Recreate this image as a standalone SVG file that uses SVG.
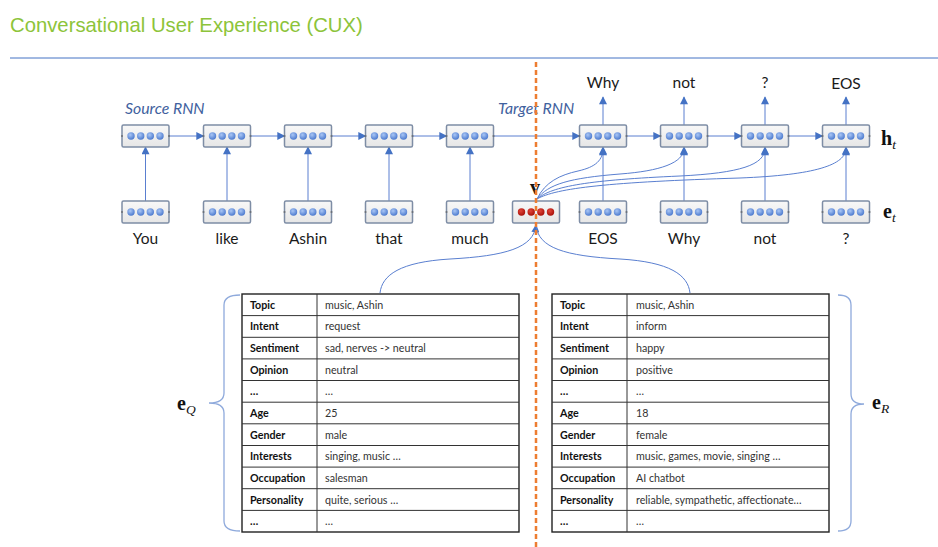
<svg xmlns="http://www.w3.org/2000/svg" xmlns:xlink="http://www.w3.org/1999/xlink" width="938" height="547" viewBox="0 0 938 547">
<style>
.title{font-family:"Liberation Sans",Arial,sans-serif;font-size:20.3px;fill:#8DC43A}
.word{font-family:Lato,"Liberation Sans",sans-serif;font-size:15.5px;fill:#1a1a1a;text-anchor:middle}
.rnn{font-family:Lato,"Liberation Sans",sans-serif;font-size:15.8px;font-style:italic;fill:#41619E}
.box{fill:url(#boxg);stroke:#7E8DA5;stroke-width:1.5}
.conn{fill:none;stroke:#5A7FD0;stroke-width:1}
.math{font-family:"Liberation Serif","DejaVu Serif",serif;font-weight:bold;font-size:20px;fill:#111}
.sub{font-family:"Liberation Serif","DejaVu Serif",serif;font-style:italic;font-weight:normal;font-size:13.5px}
.tb{fill:#fff;stroke:#222;stroke-width:1.4}
.tl{stroke:#333;stroke-width:1}
.lab{font-family:Lato,"Liberation Sans",sans-serif;font-size:10.7px;font-weight:bold;fill:#111}
.val{font-family:Lato,"Liberation Sans",sans-serif;font-size:10.7px;fill:#333}
.brace{fill:none;stroke:#8FAADC;stroke-width:1.3}
</style>
<defs>
<linearGradient id="boxg" x1="0" y1="0" x2="0" y2="1">
<stop offset="0" stop-color="#F8F8F8"/><stop offset="1" stop-color="#E6E6E6"/>
</linearGradient>
<radialGradient id="dotb" cx="0.4" cy="0.35" r="0.7">
<stop offset="0" stop-color="#A9C6F5"/><stop offset="1" stop-color="#4675CC"/>
</radialGradient>
<radialGradient id="dotr" cx="0.4" cy="0.35" r="0.7">
<stop offset="0" stop-color="#E2453A"/><stop offset="1" stop-color="#A50F08"/>
</radialGradient>
<marker id="arr" viewBox="0 0 10 10" refX="9" refY="5" markerWidth="9" markerHeight="8" markerUnits="userSpaceOnUse" orient="auto">
<path d="M0,0 L10,5 L0,10 z" fill="#4472C4"/>
</marker>
<g id="cellB">
<rect class="box" x="0" y="0" width="47" height="22" rx="1.5"/>
<line x1="-1" y1="11" x2="1" y2="11" stroke="#555" stroke-width="1"/>
<line x1="46" y1="11" x2="48" y2="11" stroke="#555" stroke-width="1"/>
<circle cx="9" cy="11" r="3.7" fill="url(#dotb)"/>
<circle cx="18.7" cy="11" r="3.7" fill="url(#dotb)"/>
<circle cx="28.3" cy="11" r="3.7" fill="url(#dotb)"/>
<circle cx="38" cy="11" r="3.7" fill="url(#dotb)"/>
</g>
<g id="cellR">
<rect class="box" x="0" y="0" width="47" height="22" rx="1.5"/>
<circle cx="9" cy="11" r="3.7" fill="url(#dotr)"/>
<circle cx="18.7" cy="11" r="3.7" fill="url(#dotr)"/>
<circle cx="28.3" cy="11" r="3.7" fill="url(#dotr)"/>
<circle cx="38" cy="11" r="3.7" fill="url(#dotr)"/>
</g>
</defs>
<rect width="938" height="547" fill="#fff"/>
<g id="header">
<text class="title" x="10" y="32">Conversational User Experience (CUX)</text>
<line x1="10" y1="58" x2="938" y2="58" stroke="#4472C4" stroke-width="1"/>
</g>
<g id="labels">
<text class="rnn" x="125" y="114">Source RNN</text>
<text class="rnn" x="498" y="114">Target RNN</text>
<text class="math" x="881" y="145">h<tspan class="sub" dy="4">t</tspan></text>
<text class="math" x="883" y="218">e<tspan class="sub" dy="4">t</tspan></text>
<text class="math" x="535" y="194" text-anchor="middle" font-size="17">v</text>
<text class="math" x="177" y="410">e<tspan class="sub" dy="4">Q</tspan></text>
<text class="math" x="872" y="409">e<tspan class="sub" dy="4">R</tspan></text>
</g>
<g id="connectors">
<line class="conn" x1="169" y1="136" x2="203.5" y2="136" marker-end="url(#arr)"/>
<line class="conn" x1="250.5" y1="136" x2="284.5" y2="136" marker-end="url(#arr)"/>
<line class="conn" x1="331.5" y1="136" x2="365.5" y2="136" marker-end="url(#arr)"/>
<line class="conn" x1="412.5" y1="136" x2="446.5" y2="136" marker-end="url(#arr)"/>
<line class="conn" x1="493.5" y1="136" x2="579.5" y2="136" marker-end="url(#arr)"/>
<line class="conn" x1="626.5" y1="136" x2="660.5" y2="136" marker-end="url(#arr)"/>
<line class="conn" x1="707.5" y1="136" x2="741.5" y2="136" marker-end="url(#arr)"/>
<line class="conn" x1="788.5" y1="136" x2="822.5" y2="136" marker-end="url(#arr)"/>
<line class="conn" x1="145.5" y1="201" x2="145.5" y2="147" marker-end="url(#arr)"/>
<line class="conn" x1="227" y1="201" x2="227" y2="147" marker-end="url(#arr)"/>
<line class="conn" x1="308" y1="201" x2="308" y2="147" marker-end="url(#arr)"/>
<line class="conn" x1="389" y1="201" x2="389" y2="147" marker-end="url(#arr)"/>
<line class="conn" x1="470" y1="201" x2="470" y2="147" marker-end="url(#arr)"/>
<line class="conn" x1="603" y1="201" x2="603" y2="147" marker-end="url(#arr)"/>
<line class="conn" x1="684" y1="201" x2="684" y2="147" marker-end="url(#arr)"/>
<line class="conn" x1="765" y1="201" x2="765" y2="147" marker-end="url(#arr)"/>
<line class="conn" x1="846" y1="201" x2="846" y2="147" marker-end="url(#arr)"/>
<line class="conn" x1="603" y1="125" x2="603" y2="97" marker-end="url(#arr)"/>
<line class="conn" x1="684" y1="125" x2="684" y2="97" marker-end="url(#arr)"/>
<line class="conn" x1="765" y1="125" x2="765" y2="97" marker-end="url(#arr)"/>
<line class="conn" x1="846" y1="125" x2="846" y2="97" marker-end="url(#arr)"/>
<path class="conn" d="M537,199 C545,182 560,175 578,171 C596,167 603,160 603,148" marker-end="url(#arr)"/>
<path class="conn" d="M537,199 C548,184 570,178 620,174 C660,171 684,163 684,148" marker-end="url(#arr)"/>
<path class="conn" d="M537,199 C552,186 590,180 680,176 C740,173 765,165 765,148" marker-end="url(#arr)"/>
<path class="conn" d="M537,199 C556,188 610,182 740,178 C815,175 846,165 846,148" marker-end="url(#arr)"/>
<path class="conn" d="M380,293 C382,275 400,262 450,259 C505,256 534,248 536,225" marker-end="url(#arr)"/>
<path class="conn" d="M690,293 C688,275 670,262 620,259 C565,256 538,248 536,225"/>
</g>
<g id="source-hidden">
<use xlink:href="#cellB" x="122" y="125"/>
<use xlink:href="#cellB" x="203.5" y="125"/>
<use xlink:href="#cellB" x="284.5" y="125"/>
<use xlink:href="#cellB" x="365.5" y="125"/>
<use xlink:href="#cellB" x="446.5" y="125"/>
</g>
<g id="target-hidden">
<use xlink:href="#cellB" x="579.5" y="125"/>
<use xlink:href="#cellB" x="660.5" y="125"/>
<use xlink:href="#cellB" x="741.5" y="125"/>
<use xlink:href="#cellB" x="822.5" y="125"/>
</g>
<g id="source-embed">
<use xlink:href="#cellB" x="122" y="201"/>
<use xlink:href="#cellB" x="203.5" y="201"/>
<use xlink:href="#cellB" x="284.5" y="201"/>
<use xlink:href="#cellB" x="365.5" y="201"/>
<use xlink:href="#cellB" x="446.5" y="201"/>
</g>
<g id="v-node">
<use xlink:href="#cellR" x="512.5" y="201"/>
</g>
<g id="target-embed">
<use xlink:href="#cellB" x="579.5" y="201"/>
<use xlink:href="#cellB" x="660.5" y="201"/>
<use xlink:href="#cellB" x="741.5" y="201"/>
<use xlink:href="#cellB" x="822.5" y="201"/>
</g>
<g id="words">
<text class="word" x="145.5" y="244">You</text>
<text class="word" x="227" y="244">like</text>
<text class="word" x="308" y="244">Ashin</text>
<text class="word" x="389" y="244">that</text>
<text class="word" x="470" y="244">much</text>
<text class="word" x="603" y="244">EOS</text>
<text class="word" x="684" y="244">Why</text>
<text class="word" x="765" y="244">not</text>
<text class="word" x="846" y="244">?</text>
<text class="word" x="603" y="88">Why</text>
<text class="word" x="684" y="88">not</text>
<text class="word" x="765" y="88">?</text>
<text class="word" x="846" y="89">EOS</text>
</g>
<g id="table-q">
<rect class="tb" x="242" y="294" width="277" height="238"/>
<line class="tl" x1="317" y1="294" x2="317" y2="532"/>
<line class="tl" x1="242" y1="315.6" x2="519" y2="315.6"/>
<line class="tl" x1="242" y1="337.3" x2="519" y2="337.3"/>
<line class="tl" x1="242" y1="358.9" x2="519" y2="358.9"/>
<line class="tl" x1="242" y1="380.5" x2="519" y2="380.5"/>
<line class="tl" x1="242" y1="402.2" x2="519" y2="402.2"/>
<line class="tl" x1="242" y1="423.8" x2="519" y2="423.8"/>
<line class="tl" x1="242" y1="445.5" x2="519" y2="445.5"/>
<line class="tl" x1="242" y1="467.1" x2="519" y2="467.1"/>
<line class="tl" x1="242" y1="488.7" x2="519" y2="488.7"/>
<line class="tl" x1="242" y1="510.4" x2="519" y2="510.4"/>
<text class="lab" x="250" y="308.8">Topic</text><text class="val" x="325" y="308.8">music, Ashin</text>
<text class="lab" x="250" y="330.4">Intent</text><text class="val" x="325" y="330.4">request</text>
<text class="lab" x="250" y="352.1">Sentiment</text><text class="val" x="325" y="352.1">sad, nerves -&gt; neutral</text>
<text class="lab" x="250" y="373.7">Opinion</text><text class="val" x="325" y="373.7">neutral</text>
<text class="lab" x="250" y="395.3">…</text><text class="val" x="325" y="395.3">…</text>
<text class="lab" x="250" y="417">Age</text><text class="val" x="325" y="417">25</text>
<text class="lab" x="250" y="438.6">Gender</text><text class="val" x="325" y="438.6">male</text>
<text class="lab" x="250" y="460.3">Interests</text><text class="val" x="325" y="460.3">singing, music …</text>
<text class="lab" x="250" y="481.9">Occupation</text><text class="val" x="325" y="481.9">salesman</text>
<text class="lab" x="250" y="503.5">Personality</text><text class="val" x="325" y="503.5">quite, serious …</text>
<text class="lab" x="250" y="525.2">…</text><text class="val" x="325" y="525.2">…</text>
<path class="brace" d="M240,295 Q224,295 224,305 L224,393 Q224,403 209,403 Q224,403 224,413 L224,521 Q224,531 240,531"/>
</g>
<g id="table-r">
<rect class="tb" x="552" y="294" width="277" height="238"/>
<line class="tl" x1="627" y1="294" x2="627" y2="532"/>
<line class="tl" x1="552" y1="315.6" x2="829" y2="315.6"/>
<line class="tl" x1="552" y1="337.3" x2="829" y2="337.3"/>
<line class="tl" x1="552" y1="358.9" x2="829" y2="358.9"/>
<line class="tl" x1="552" y1="380.5" x2="829" y2="380.5"/>
<line class="tl" x1="552" y1="402.2" x2="829" y2="402.2"/>
<line class="tl" x1="552" y1="423.8" x2="829" y2="423.8"/>
<line class="tl" x1="552" y1="445.5" x2="829" y2="445.5"/>
<line class="tl" x1="552" y1="467.1" x2="829" y2="467.1"/>
<line class="tl" x1="552" y1="488.7" x2="829" y2="488.7"/>
<line class="tl" x1="552" y1="510.4" x2="829" y2="510.4"/>
<text class="lab" x="560" y="308.8">Topic</text><text class="val" x="636" y="308.8">music, Ashin</text>
<text class="lab" x="560" y="330.4">Intent</text><text class="val" x="636" y="330.4">inform</text>
<text class="lab" x="560" y="352.1">Sentiment</text><text class="val" x="636" y="352.1">happy</text>
<text class="lab" x="560" y="373.7">Opinion</text><text class="val" x="636" y="373.7">positive</text>
<text class="lab" x="560" y="395.3">…</text><text class="val" x="636" y="395.3">…</text>
<text class="lab" x="560" y="417">Age</text><text class="val" x="636" y="417">18</text>
<text class="lab" x="560" y="438.6">Gender</text><text class="val" x="636" y="438.6">female</text>
<text class="lab" x="560" y="460.3">Interests</text><text class="val" x="636" y="460.3">music, games, movie, singing …</text>
<text class="lab" x="560" y="481.9">Occupation</text><text class="val" x="636" y="481.9">AI chatbot</text>
<text class="lab" x="560" y="503.5">Personality</text><text class="val" x="636" y="503.5">reliable, sympathetic, affectionate…</text>
<text class="lab" x="560" y="525.2">…</text><text class="val" x="636" y="525.2">…</text>
<path class="brace" d="M838,295 Q851,295 851,305 L851,394 Q851,404 864,404 Q851,404 851,414 L851,521 Q851,531 838,531"/>
</g>
<g id="divider">
<line x1="536" y1="62" x2="536" y2="547" stroke="#ED7D31" stroke-width="2.5" stroke-dasharray="5 3"/>
</g>
</svg>
